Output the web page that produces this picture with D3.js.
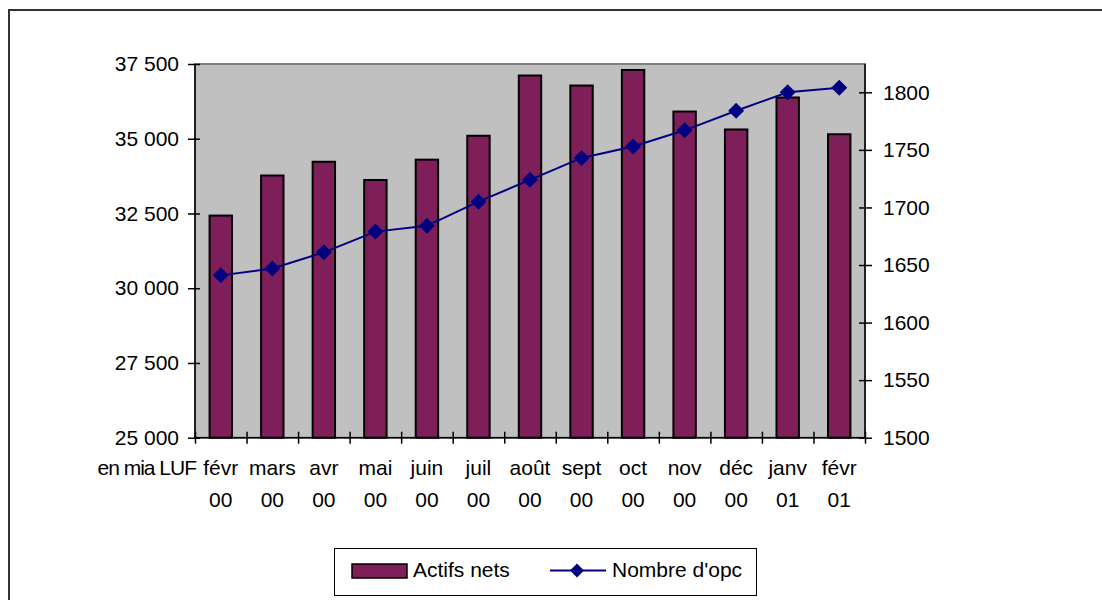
<!DOCTYPE html>
<html>
<head>
<meta charset="utf-8">
<script src="https://cdn.jsdelivr.net/npm/d3@7"></script>
<style>
  body { margin: 0; background: #fff; }
  svg { font-family: "Liberation Sans", Arial, sans-serif; }
</style>
</head>
<body>
<div id="chart"></div>
<script>
'use strict';

const months   = [['févr', '00'], ['mars', '00'], ['avr', '00'], ['mai', '00'], ['juin', '00'],
                  ['juil', '00'], ['août', '00'], ['sept', '00'], ['oct', '00'], ['nov', '00'],
                  ['déc', '00'], ['janv', '01'], ['févr', '01']];
const actifs   = [32430, 33770, 34230, 33620, 34300, 35100, 37115, 36780, 37300, 35910, 35310, 36380, 35150];
const nombre   = [1641, 1647, 1661, 1679, 1684, 1705, 1724, 1743, 1753, 1767, 1784, 1800, 1804];
const leftTicks  = [25000, 27500, 30000, 32500, 35000, 37500];
const rightTicks = [1500, 1550, 1600, 1650, 1700, 1750, 1800];
const unitLabel  = 'en mia LUF';
const seriesNames = ['Actifs nets', "Nombre d'opc"];

const W = 1102, H = 600;
const plot = {left: 195, right: 865, top: 64, bottom: 437.7};
const barColor = '#7f1f5a', lineColor = '#000080';
const fmt = d => d3.format(',')(d).replace(',', ' ');

const svg = d3.select('#chart').append('svg')
  .attr('width', W).attr('height', H);

// chart border
svg.append('rect')
  .attr('x', 9).attr('y', 10)
  .attr('width', 1200).attr('height', 700)
  .style('fill', 'none').style('stroke', '#333').style('stroke-width', 2);

const step = (plot.right - plot.left) / months.length;
const cx = i => plot.left + step * (i + 0.5);
const yL = d3.scaleLinear().domain([25000, 37500]).range([plot.bottom, plot.top]);
const yR = d3.scaleLinear().domain([1500, 1824.6]).range([plot.bottom, plot.top]);

// plot area
svg.append('rect')
  .attr('x', plot.left).attr('y', plot.top)
  .attr('width', plot.right - plot.left).attr('height', plot.bottom - plot.top)
  .style('fill', '#c0c0c0').style('stroke', '#808080').style('stroke-width', 2);

const barW = step / 2.3;
svg.append('g').selectAll('rect')
  .data(actifs)
  .enter()
  .append('rect')
  .attr('x', (d, i) => cx(i) - barW / 2)
  .attr('y', d => yL(d))
  .attr('width', barW)
  .attr('height', d => yL(25000) - yL(d))
  .style('fill', barColor)
  .style('stroke', '#000')
  .style('stroke-width', 2);

// line series
svg.append('path')
  .datum(nombre)
  .attr('d', d3.line().x((d, i) => cx(i)).y(d => yR(d)))
  .style('fill', 'none').style('stroke', lineColor).style('stroke-width', 2);

const diamond = s => `M0,${-s}L${s},0L0,${s}L${-s},0Z`;
svg.append('g').selectAll('path')
  .data(nombre)
  .enter()
  .append('path')
  .attr('d', diamond(8))
  .attr('transform', (d, i) => `translate(${cx(i)},${yR(d)})`)
  .style('fill', lineColor);

// axes
const styleAxis = function(g) {
  g.select('.domain').remove();
  g.selectAll('line').style('stroke', '#000').style('stroke-width', 1.5);
  g.selectAll('text').style('font-size', '21px').style('fill', '#000');
};

svg.append('g')
  .attr('transform', `translate(${plot.left},0)`)
  .call(d3.axisLeft(yL).tickValues(leftTicks).tickFormat(fmt).tickSize(7).tickPadding(9))
  .call(styleAxis)
  .call(g => g.selectAll('.tick line').attr('x2', -7).attr('x1', 5));

svg.append('g')
  .attr('transform', `translate(${plot.right},0)`)
  .call(d3.axisRight(yR).tickValues(rightTicks).tickFormat(d3.format('d')).tickSize(7).tickPadding(11))
  .call(styleAxis)
  .call(g => g.selectAll('.tick line').attr('x2', 7).attr('x1', -6));

const xTicks = d3.scaleLinear().domain([0, months.length]).range([plot.left, plot.right]);
svg.append('g')
  .attr('transform', `translate(0,${plot.bottom})`)
  .call(d3.axisBottom(xTicks).tickValues(d3.range(months.length + 1)).tickFormat('').tickSize(6))
  .call(styleAxis)
  .call(g => g.selectAll('.tick line').attr('y1', -6));

// axis lines
const axisLines = [
  [plot.left, plot.top, plot.left, plot.bottom],
  [plot.right, plot.top, plot.right, plot.bottom],
  [plot.left, plot.bottom, plot.right, plot.bottom]
];
svg.append('g').selectAll('line')
  .data(axisLines)
  .enter()
  .append('line')
  .attr('x1', d => d[0]).attr('y1', d => d[1])
  .attr('x2', d => d[2]).attr('y2', d => d[3])
  .style('stroke', '#000').style('stroke-width', 1.5);

// category labels
const cats = svg.append('g').style('font-size', '21px').attr('text-anchor', 'middle');
cats.selectAll('text')
  .data(months)
  .enter()
  .append('text')
  .attr('x', (d, i) => cx(i))
  .attr('y', 475)
  .each(function(d) {
    d3.select(this).append('tspan').attr('x', d3.select(this).attr('x')).text(d[0]);
    d3.select(this).append('tspan').attr('x', d3.select(this).attr('x')).attr('dy', 32).text(d[1]);
  });

svg.append('text')
  .attr('x', 196).attr('y', 475)
  .attr('text-anchor', 'end')
  .style('font-size', '21px')
  .style('letter-spacing', '-1px')
  .text(unitLabel);

// legend
const legend = svg.append('g');
legend.append('rect')
  .attr('x', 334.5).attr('y', 548.5).attr('width', 422).attr('height', 47)
  .style('fill', '#fff').style('stroke', '#000').style('stroke-width', 1);
legend.append('rect')
  .attr('x', 352).attr('y', 564).attr('width', 55).attr('height', 14)
  .style('fill', barColor).style('stroke', '#000').style('stroke-width', 1.5);
legend.append('text')
  .attr('x', 413).attr('y', 577).style('font-size', '21px').text(seriesNames[0]);
legend.append('line')
  .attr('x1', 550).attr('x2', 606).attr('y1', 570.5).attr('y2', 570.5)
  .style('stroke', lineColor).style('stroke-width', 2);
legend.append('path')
  .attr('d', diamond(7))
  .attr('transform', 'translate(577,570.5)')
  .style('fill', lineColor);
legend.append('text')
  .attr('x', 612).attr('y', 577).style('font-size', '21px').text(seriesNames[1]);
</script>
</body>
</html>
